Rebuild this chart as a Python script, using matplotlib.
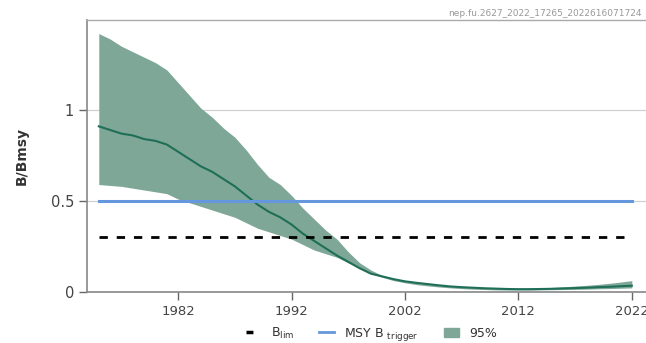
import matplotlib
matplotlib.use("Agg")
import matplotlib.pyplot as plt
from matplotlib.patches import Patch
from matplotlib.lines import Line2D

years = list(range(1975, 2023))

median = [0.91, 0.89, 0.87, 0.86, 0.84, 0.83, 0.81, 0.77, 0.73, 0.69,
          0.66, 0.62, 0.58, 0.53, 0.48, 0.44, 0.41, 0.37, 0.32, 0.28,
          0.24, 0.20, 0.165, 0.13, 0.10, 0.085, 0.07, 0.058, 0.05, 0.043,
          0.036, 0.03, 0.026, 0.023, 0.02, 0.018, 0.016, 0.015, 0.015, 0.016,
          0.017, 0.019, 0.021, 0.023, 0.026, 0.028, 0.031, 0.034]

upper = [1.42, 1.39, 1.35, 1.32, 1.29, 1.26, 1.22, 1.15, 1.08, 1.01,
         0.96, 0.90, 0.85, 0.78, 0.70, 0.63, 0.59, 0.53, 0.46, 0.40,
         0.34, 0.29, 0.22, 0.16, 0.12, 0.09, 0.07, 0.06, 0.052, 0.045,
         0.038, 0.032, 0.028, 0.025, 0.022, 0.02, 0.019, 0.019, 0.02, 0.022,
         0.025, 0.028, 0.032, 0.036, 0.041, 0.047, 0.054, 0.062]

lower = [0.59, 0.585, 0.58, 0.57, 0.56, 0.55, 0.54, 0.51, 0.49, 0.47,
         0.45, 0.43, 0.41, 0.38, 0.35, 0.33, 0.31, 0.29, 0.26, 0.23,
         0.21, 0.19, 0.16, 0.13, 0.10, 0.08, 0.062, 0.05, 0.04, 0.033,
         0.027, 0.022, 0.018, 0.015, 0.013, 0.011, 0.01, 0.01, 0.01, 0.011,
         0.012, 0.013, 0.014, 0.015, 0.017, 0.018, 0.02, 0.022]

b_lim = 0.3
msy_btrigger = 0.5
xticks = [1982, 1992, 2002, 2012, 2022]

band_color = "#7fa797"
line_color = "#1f6f58"
blue = "#6497de"
grey = "#666666"

fig = plt.figure(figsize=(6.46, 3.43), dpi=100)
ax = fig.add_axes([0.135, 0.149, 0.865, 0.793])

ax.yaxis.grid(True, color="#d0d0d0", linewidth=0.9)
ax.set_axisbelow(True)

ax.fill_between(years, lower, upper, color=band_color, linewidth=0)
ax.plot(years, median, color=line_color, linewidth=1.5)
ax.plot([years[0], years[-1]], [msy_btrigger] * 2, color=blue, linewidth=2.2)
ax.plot([years[0], years[-1]], [b_lim] * 2, color="black", linewidth=2,
        linestyle=(0, (3, 3.2)))

ax.set_xlim(1973.98, 2023.25)
ax.set_ylim(0, 1.495)
ax.set_xticks(xticks)
ax.set_yticks([0, 0.5, 1])
ax.set_yticklabels(["0", "0.5", "1"])
ax.tick_params(colors=grey, labelsize=9.5, length=6, width=1)
ax.tick_params(axis="x", labelcolor="#444444")
ax.tick_params(axis="y", labelcolor="#444444", labelsize=10.5)

for side in ["left", "bottom"]:
    ax.spines[side].set_color("#888888")
    ax.spines[side].set_linewidth(1.2)
ax.spines["top"].set_color("#aaaaaa")
ax.spines["top"].set_linewidth(1.0)
ax.spines["right"].set_visible(False)

ax.set_ylabel("B/Bmsy", fontsize=10, fontweight="bold", color="#333333",
              labelpad=16)

handles = [
    Line2D([], [], color="black", linewidth=2.5, linestyle=(0, (2, 3)), markersize=0),
    Line2D([], [], color=blue, linewidth=2),
    Patch(color=band_color),
]
labels = [r"B$_{\mathrm{lim}}$", r"MSY B $_{\mathrm{trigger}}$", "95%"]
fig.legend(handles, labels, loc="center", bbox_to_anchor=(0.575, 0.026),
           ncol=3, frameon=False, fontsize=9, handlelength=1.2,
           handletextpad=0.8, columnspacing=2.0, labelcolor="#333333")

fig.text(0.693, 0.962, "nep.fu.2627_2022_17265_2022616071724",
         fontsize=6.5, color="#999999", ha="left", va="center")

fig.savefig("out.png", dpi=100)
